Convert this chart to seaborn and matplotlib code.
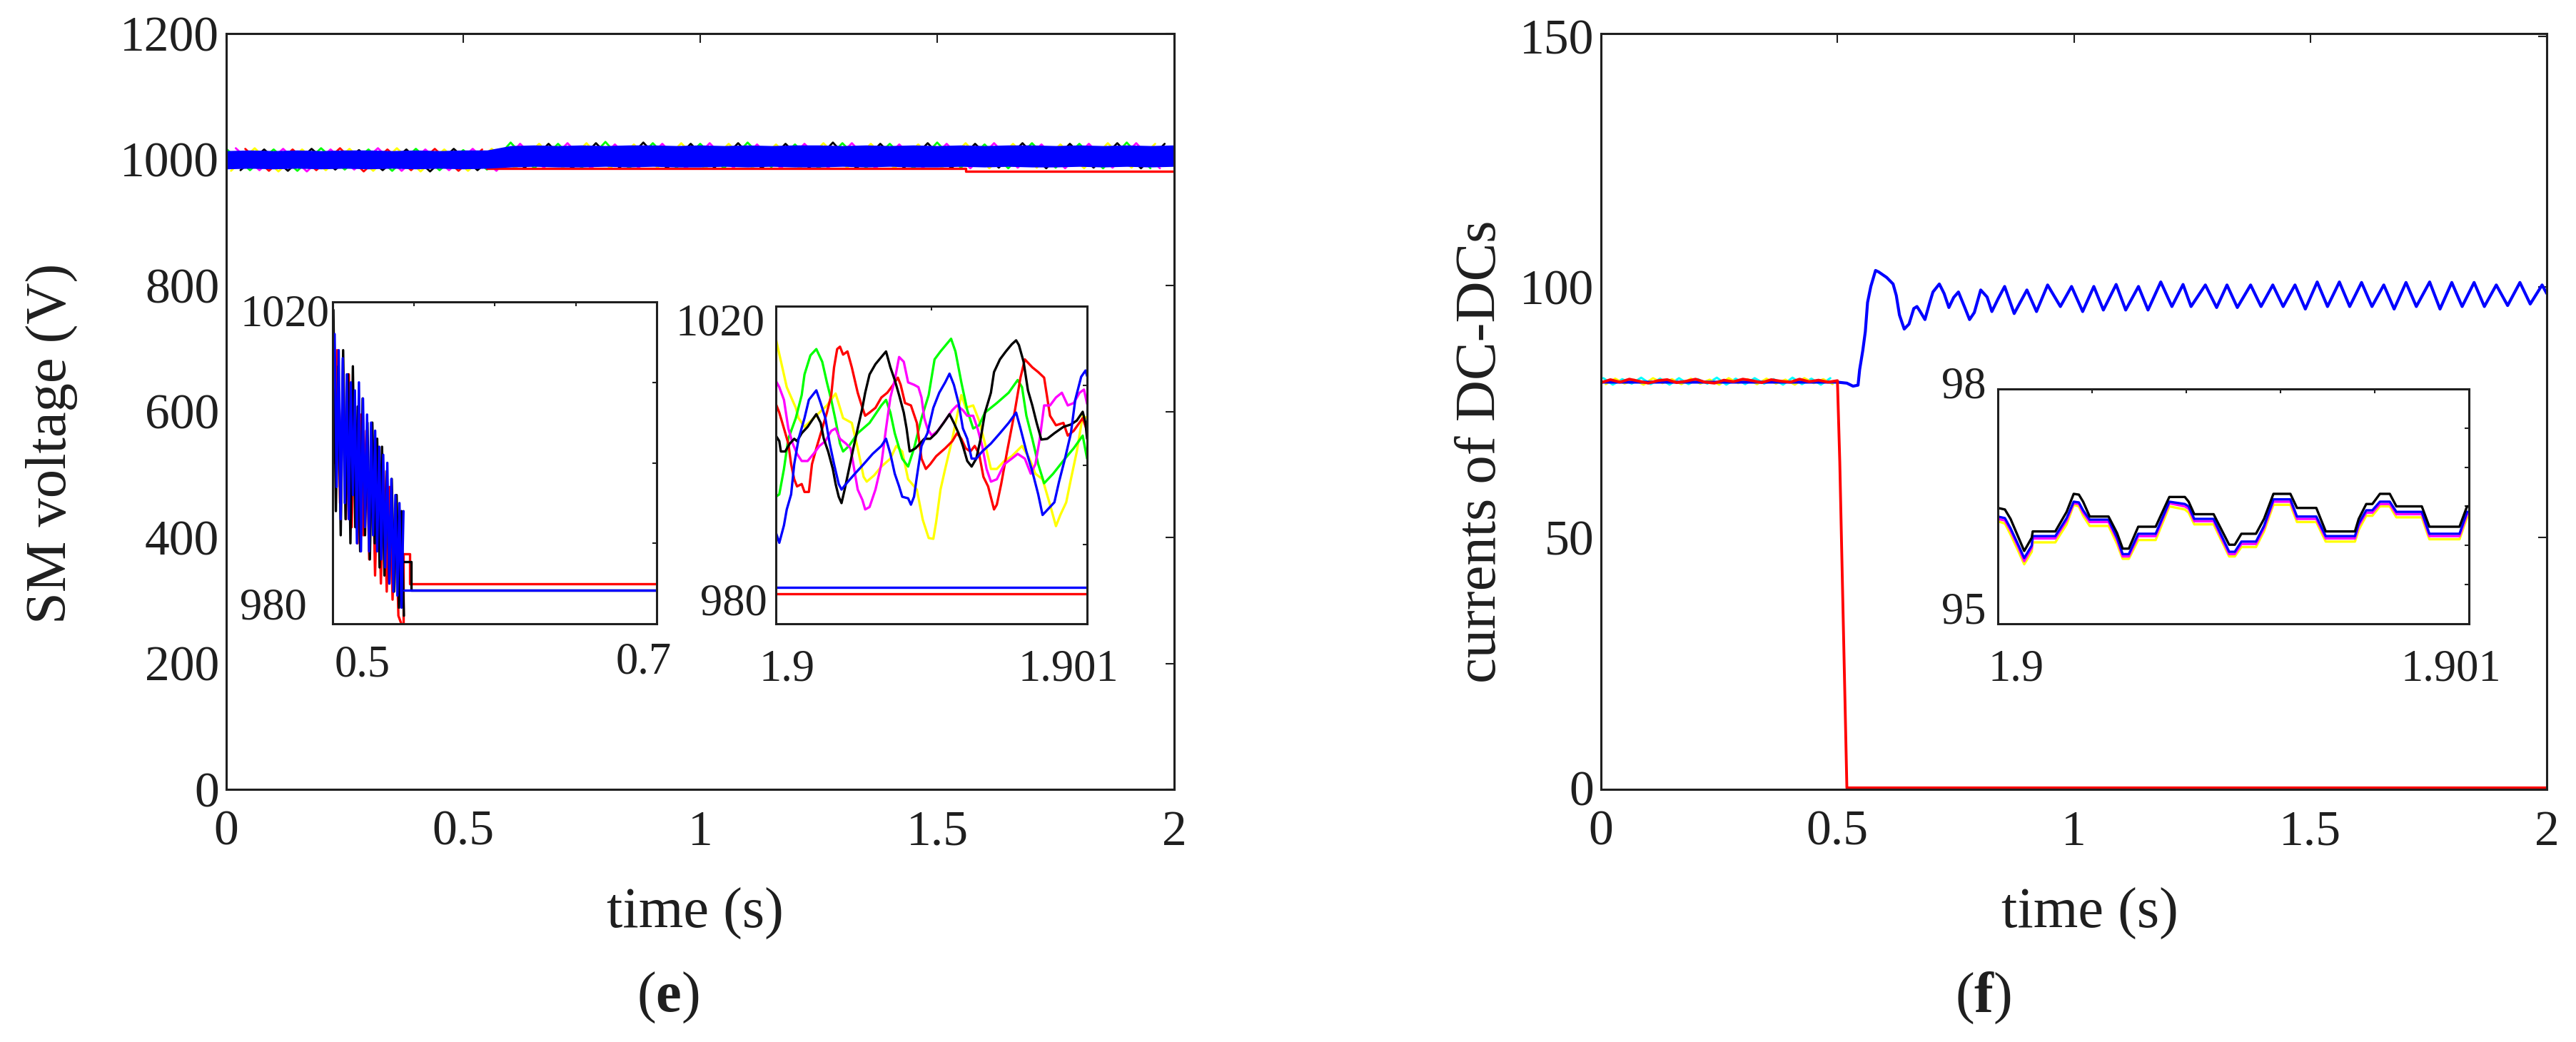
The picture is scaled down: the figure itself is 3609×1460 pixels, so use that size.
import numpy as np
import matplotlib
matplotlib.use("Agg")
import matplotlib.pyplot as plt
import seaborn as sns

W, H = 3609, 1460

# MATLAB style line colours
RED = "#ff0000"
GREEN = "#00ff00"
BLUE = "#0000ff"
BLACK = "#000000"
MAGENTA = "#ff00ff"
YELLOW = "#ffff00"
CYAN = "#00ffff"
INK = "#1f1f1f"

# ---------------- (e) SM voltage, main plot ----------------
ZIG_STEP = 0.05
green_main = [1017, 983, 1016, 982, 1018, 984, 1016, 982, 1017, 983, 1015, 984,
              1027, 986, 1025, 987, 1028, 986, 1026, 987, 1025, 986, 1027, 988, 1024, 986,
              1026, 987, 1025, 986, 1027, 987, 1024, 986, 1026, 987, 1025, 986, 1027, 986]
yellow_main = [982, 1018, 981, 1016, 983, 1017, 982, 1018, 981, 1016, 982, 1017,
               986, 1025, 987, 1026, 986, 1024, 987, 1026, 985, 1025, 987, 1024, 986, 1026,
               987, 1025, 986, 1024, 987, 1026, 986, 1025, 987, 1024, 986, 1026, 987, 1025]
magenta_main = [1018, 983, 1017, 981, 1016, 984, 1018, 982, 1016, 983, 1017, 982,
                1025, 987, 1026, 986, 1024, 987, 1025, 986, 1026, 987, 1024, 986, 1025, 987,
                1026, 986, 1024, 987, 1025, 986, 1026, 987, 1024, 986, 1025, 987, 1026, 986]
black_main = [983, 1016, 982, 1017, 984, 1015, 983, 1016, 981, 1017, 983, 1015,
              987, 1025, 986, 1026, 987, 1027, 986, 1025, 987, 1026, 986, 1025, 987, 1027,
              986, 1025, 987, 1026, 986, 1025, 987, 1026, 986, 1025, 987, 1026, 986, 1025]
red_main_zig = [1017, 982, 1016, 983, 1018, 981, 1016, 983, 1017, 982, 1016]
red_main_flat_t = [0.55, 1.56, 1.56, 2.0]
red_main_flat_v = [985.5, 985.5, 981.5, 981.5]

band_hi = [1014, 1015, 1014, 1015, 1014, 1015, 1015, 1014, 1015, 1014, 1015, 1015,
           1022, 1023, 1022, 1023, 1022, 1023, 1023, 1022, 1023, 1022,
           1023, 1022, 1023, 1023, 1022, 1023, 1022, 1023, 1022, 1023,
           1022, 1023, 1023, 1022, 1023, 1022, 1023, 1022, 1023]
band_lo = [985, 986, 985, 986, 985, 986, 985, 986, 985, 986, 985, 986,
           988, 989, 988, 988, 989, 988, 989, 988, 988, 989,
           988, 989, 988, 988, 989, 988, 989, 988, 988, 989,
           988, 989, 988, 988, 989, 988, 989, 988, 989]

# ---------------- (e) inset 1: 0.5 .. 0.7 s ----------------
in1_blue = [1008, 1016, 997, 1014, 993, 1013, 995, 1011, 993, 1010, 996, 1009,
            990, 1010, 989, 1008, 992, 1006, 989, 1005, 991, 1004, 989, 1002,
            988, 1001, 987, 1000, 985, 998, 984, 996, 983.5, 995, 982, 994]
in1_blue_tail_t = [0.5440, 0.7]
in1_blue_tail_v = [984.2, 984.2]
in1_black = [1019, 994, 1012, 991, 1014, 993, 1011, 990, 1012, 992, 1007, 989, 1008, 991, 1005,
             988, 1005, 990, 1003, 987, 1002, 986, 999, 985, 998, 984, 996, 982, 994, 981]
in1_black_tail_t = [0.5440, 0.5483, 0.5483, 0.7]
in1_black_tail_v = [987.7, 987.7, 984.2, 984.2]
in1_red = [1000, 1014, 995, 1010, 993, 1011, 992, 1008, 990, 1006, 991, 1004,
           988, 1003, 986, 1001, 985, 999, 984, 997, 983, 995, 981, 980]
in1_red_tail_t = [0.5436, 0.5436, 0.5475, 0.5475, 0.7]
in1_red_tail_v = [980, 988.7, 988.7, 985.0, 985.0]

# ---------------- (e) inset 2: 1.9 .. 1.901 s (time in microseconds after 1.9 s) ----------------
in2_yellow_us = [0, 35, 64, 73, 92, 164, 192, 216, 244, 263, 282, 292, 316, 339, 368, 387, 406, 425,
                 453, 472, 491, 506, 515, 529, 544, 567, 596, 610, 634, 653, 672, 691, 710, 734,
                 758, 791, 815, 834, 857, 881, 900, 914, 933, 948, 967, 986, 1000]
in2_yellow = [1015.9, 1009.8, 1007.2, 1005.9, 1004.8, 1007.5, 1009.0, 1005.9, 1005.3, 1002.1,
              998.5, 997.9, 998.7, 999.8, 1000.8, 1002.4, 1001.7, 998.2, 996.9, 993.1, 990.8,
              990.7, 992.8, 996.9, 999.5, 1003.3, 1008.8, 1007.2, 1007.5, 1005.6, 1002.7, 999.5,
              999.5, 1000.5, 1001.1, 1002.4, 1000.8, 998.9, 998.2, 995.0, 992.3, 993.7, 995.3,
              998.2, 1001.7, 1006.2, 1005.9]
in2_green_us = [0, 11, 26, 40, 64, 83, 92, 111, 130, 149, 164, 178, 192, 206, 216, 235, 263, 301,
                339, 354, 368, 382, 406, 425, 444, 468, 491, 510, 529, 563, 577, 596, 615, 634,
                653, 672, 710, 748, 777, 791, 805, 824, 843, 862, 891, 929, 957, 986, 1000]
in2_green = [996.0, 996.3, 999.5, 1003.3, 1005.9, 1008.8, 1011.4, 1013.8, 1014.6, 1013.0, 1010.4,
             1008.2, 1005.6, 1002.7, 1001.7, 1002.4, 1004.0, 1005.3, 1007.5, 1008.2, 1006.6,
             1004.0, 1000.8, 999.8, 1002.1, 1005.9, 1008.8, 1013.3, 1014.3, 1015.9, 1014.3,
             1010.4, 1006.9, 1004.6, 1005.0, 1006.6, 1007.8, 1009.1, 1010.7, 1009.8, 1006.2,
             1003.3, 1000.1, 997.7, 998.9, 1000.8, 1002.1, 1003.7, 1000.8]
in2_red_us = [0, 11, 26, 40, 49, 59, 68, 83, 92, 106, 116, 130, 149, 164, 178, 187, 197, 206, 216,
              230, 244, 263, 278, 287, 301, 320, 339, 358, 377, 392, 401, 415, 434, 453, 468, 482,
              496, 515, 544, 567, 582, 596, 610, 625, 639, 653, 667, 682, 701, 710, 724, 743, 767,
              786, 800, 824, 843, 862, 881, 900, 924, 938, 957, 986, 1000]
in2_red = [1007.7, 1006.6, 1004.6, 1002.7, 1000.1, 998.2, 997.3, 997.6, 996.6, 996.6,
           1000.1, 1002.1, 1004.6, 1006.6, 1008.8, 1012.3, 1014.6, 1014.9, 1013.9, 1014.3,
           1012.3, 1009.1, 1007.2, 1006.2, 1006.6, 1007.2, 1008.5, 1009.1, 1010.1, 1011.0,
           1010.1, 1007.8, 1007.5, 1005.3, 1000.8, 999.5, 1000.1, 1001.1, 1002.1, 1003.0,
           1004.0, 1003.3, 1002.1, 1001.7, 1002.4, 1001.4, 998.5, 997.3, 994.4, 995.0,
           997.6, 1001.7, 1006.6, 1011.0, 1013.3, 1012.3, 1011.7, 1011.0, 1006.2, 1005.0,
           1005.3, 1003.7, 1004.3, 1005.9, 1004.3]
in2_black_us = [0, 11, 16, 30, 45, 59, 68, 83, 102, 121, 130, 144, 154, 168, 183, 192, 202, 211,
                221, 235, 249, 263, 278, 287, 301, 320, 339, 354, 368, 382, 396, 411, 420, 430,
                449, 463, 477, 496, 515, 539, 558, 572, 587, 601, 615, 629, 644, 658, 672, 691,
                701, 720, 739, 758, 772, 781, 796, 810, 824, 838, 853, 872, 895, 924, 948, 967,
                986, 995, 1000]
in2_black = [1003.7, 1003.0, 1001.7, 1001.7, 1002.7, 1003.3, 1003.0, 1004.0, 1004.8, 1005.9,
             1006.4, 1005.3, 1003.3, 1001.7, 999.5, 997.6, 996.0, 995.2, 996.9, 999.5,
             1002.1, 1004.6, 1007.2, 1009.1, 1011.4, 1012.7, 1013.6, 1014.3, 1012.3, 1010.7,
             1008.8, 1006.6, 1004.6, 1001.7, 1002.1, 1002.7, 1003.3, 1003.3, 1004.0, 1005.3,
             1006.4, 1005.3, 1004.0, 1002.4, 1000.5, 999.8, 1000.8, 1003.3, 1006.6, 1009.1,
             1011.7, 1013.3, 1014.3, 1015.2, 1015.7, 1015.1, 1013.0, 1009.4, 1007.5, 1005.3,
             1003.2, 1003.3, 1004.0, 1004.8, 1005.1, 1005.6, 1006.7, 1005.3, 1003.3]
in2_magenta_us = [0, 11, 26, 40, 54, 68, 83, 102, 121, 140, 159, 178, 192, 206, 225, 240, 249,
                  263, 278, 287, 301, 320, 339, 354, 368, 382, 396, 411, 425, 444, 458, 468, 477,
                  487, 501, 520, 544, 567, 582, 601, 615, 634, 648, 663, 677, 691, 710, 734, 758,
                  777, 800, 819, 834, 848, 862, 881, 900, 919, 938, 957, 976, 990, 1000]
in2_magenta = [1010.6, 1009.8, 1008.2, 1004.6, 1002.7, 1001.4, 1000.5, 1000.5, 1001.4, 1002.4,
               1003.0, 1004.3, 1004.6, 1003.3, 1002.7, 1002.1, 1000.1, 996.9, 995.6, 994.4,
               994.7, 996.9, 1000.1, 1004.6, 1008.5, 1010.7, 1013.6, 1013.0, 1010.4, 1010.1,
               1009.8, 1008.5, 1005.9, 1004.6, 1003.7, 1004.3, 1005.6, 1006.9, 1007.5, 1006.9,
               1006.2, 1006.2, 1004.6, 1002.4, 999.5, 997.9, 998.2, 1000.1, 1000.8, 1001.4,
               1000.8, 998.9, 1000.1, 1003.3, 1007.5, 1007.5, 1008.5, 1009.1, 1007.5, 1007.8,
               1009.1, 1009.5, 1007.7]
in2_blue_us = [0, 11, 26, 35, 49, 59, 73, 92, 106, 130, 144, 159, 173, 187, 202, 211, 225, 254,
               282, 311, 339, 354, 368, 382, 396, 406, 425, 434, 444, 453, 468, 487, 506, 525,
               544, 558, 572, 587, 601, 615, 629, 644, 663, 691, 720, 748, 772, 786, 805, 824,
               843, 857, 876, 895, 910, 929, 948, 962, 981, 995, 1000]
in2_blue = [991.5, 990.2, 992.4, 994.4, 996.3, 1000.1, 1003.3, 1005.9, 1008.2, 1009.4,
            1007.8, 1005.9, 1002.7, 1000.1, 997.6, 996.9, 997.6, 998.9, 1000.1, 1001.4,
            1002.4, 1003.3, 1001.4, 998.9, 997.3, 996.0, 995.8, 995.0, 996.0, 998.5,
            1002.4, 1004.0, 1007.2, 1009.1, 1010.4, 1011.5, 1010.1, 1007.8, 1004.6, 1003.3,
            1000.8, 1000.8, 1001.7, 1002.7, 1004.0, 1005.3, 1006.6, 1004.6, 1001.7, 999.2,
            996.3, 993.7, 994.5, 995.3, 997.9, 1000.8, 1004.0, 1008.2, 1011.1, 1011.9, 1011.2]
in2_blue_flat = 984.6
in2_red_flat = 983.8

# ---------------- (f) currents of DC-DCs ----------------
f_pre_step = 0.02
red_f_pre = [80.9, 81.5, 81.0, 81.6, 81.2, 80.8, 81.3, 81.5, 80.9, 81.2, 81.6, 81.0, 80.8,
             81.4, 81.1, 81.6, 81.3, 80.9, 81.5, 81.2, 81.0, 81.6, 81.1, 81.4, 81.0, 81.3]
red_f_drop_t = [0.505, 0.52, 2.0]
red_f_drop_v = [65.0, 0.0, 0.0]
yellow_f_pre = [80.6, 81.7, 80.7, 81.5, 80.5, 81.8, 80.8, 81.6, 80.6, 81.7, 80.7, 81.5, 80.5,
                81.8, 80.8, 81.6, 80.6, 81.7, 80.7, 81.5, 80.5, 81.8, 80.8, 81.6, 80.6]
cyan_f_pre = [81.8, 80.5, 81.6, 80.7, 81.9, 80.6, 81.7, 80.5, 81.8, 80.6, 81.6, 80.7, 81.9,
              80.5, 81.7, 80.6, 81.8, 80.7, 81.6, 80.5, 81.9, 80.6, 81.7, 80.5, 81.8]
blue_f_t = [0.0, 0.25, 0.5, 0.52, 0.533, 0.5436, 0.547, 0.5536, 0.559, 0.5637,
            0.5706, 0.5806, 0.5873, 0.6042, 0.6177, 0.6245, 0.6312, 0.6413, 0.6514, 0.6615,
            0.6682, 0.6750, 0.6851, 0.6952, 0.7020, 0.7155, 0.7256, 0.7357, 0.7458, 0.7559,
            0.7693, 0.7794, 0.7895, 0.8030, 0.8165, 0.8266, 0.8401, 0.8536, 0.8738, 0.9007,
            0.9210, 0.9445, 0.9715, 0.9951, 1.0186, 1.0422, 1.0624, 1.0894, 1.1096, 1.1366,
            1.1568, 1.1838, 1.2073, 1.2309, 1.2478, 1.2781, 1.3019, 1.3238, 1.3457, 1.3738,
            1.3958, 1.4207, 1.4426, 1.4676, 1.4895, 1.5146, 1.5364, 1.5615, 1.5833, 1.6084,
            1.6304, 1.6554, 1.6773, 1.7024, 1.7242, 1.7524, 1.7743, 1.7992, 1.8211, 1.8464,
            1.8681, 1.8933, 1.9173, 1.9433, 1.9651, 1.9902, 2.0]
blue_f = [81.0, 81.0, 81.0, 80.8, 80.2, 80.4, 83.5, 87.3, 91.1, 96.9,
          100.1, 103.3, 103.0, 101.9, 100.6, 98.3, 94.4, 91.6, 92.6, 95.7,
          96.1, 95.1, 93.5, 96.9, 99.0, 100.6, 98.7, 95.9, 97.9, 99.0,
          95.9, 93.5, 94.9, 99.4, 98.0, 95.1, 97.7, 100.1, 94.7, 99.4,
          95.1, 100.4, 96.1, 100.1, 95.1, 100.1, 95.4, 100.5, 95.4, 100.1,
          95.4, 101.0, 96.1, 100.5, 96.1, 100.4, 95.9, 100.4, 95.9, 100.4,
          96.1, 100.4, 96.1, 100.4, 95.6, 101.0, 96.1, 101.0, 96.1, 100.9,
          96.1, 100.4, 95.6, 100.9, 96.1, 101.0, 95.6, 100.9, 96.1, 100.9,
          96.1, 100.4, 96.3, 100.9, 96.6, 100.4, 98.7]

# (f) inset: 1.9 .. 1.901 s (microseconds after 1.9 s)
inf_us = [0, 15, 27, 44, 56, 72, 74, 122, 146, 161, 172, 181, 195, 235, 253, 265, 278, 298, 335,
          364, 397, 405, 417, 458, 491, 503, 517, 548, 565, 585, 621, 635, 676, 696, 758, 766,
          782, 795, 811, 832, 846, 900, 916, 980, 996, 1000]
inf_black = [96.48, 96.46, 96.34, 96.10, 95.93, 96.10, 96.18, 96.18, 96.43, 96.66,
             96.65, 96.56, 96.37, 96.37, 96.16, 95.96, 95.96, 96.24, 96.24, 96.62,
             96.62, 96.56, 96.40, 96.40, 96.01, 96.01, 96.15, 96.15, 96.34, 96.66,
             96.66, 96.48, 96.48, 96.18, 96.18, 96.34, 96.53, 96.53, 96.66, 96.66,
             96.50, 96.50, 96.24, 96.24, 96.50, 96.50]
inf_blue = [96.37, 96.35, 96.22, 96.00, 95.84, 96.00, 96.12, 96.12, 96.35, 96.56,
            96.55, 96.45, 96.33, 96.33, 96.10, 95.89, 95.89, 96.15, 96.15, 96.56,
            96.53, 96.50, 96.34, 96.34, 95.92, 95.92, 96.05, 96.05, 96.25, 96.59,
            96.59, 96.37, 96.37, 96.12, 96.12, 96.28, 96.45, 96.45, 96.56, 96.56,
            96.43, 96.43, 96.15, 96.15, 96.43, 96.43]
inf_magenta = [96.34, 96.32, 96.19, 95.97, 95.80, 95.97, 96.09, 96.09, 96.32, 96.54,
               96.53, 96.42, 96.30, 96.30, 96.07, 95.86, 95.86, 96.12, 96.12, 96.54,
               96.50, 96.47, 96.31, 96.31, 95.89, 95.89, 96.02, 96.02, 96.22, 96.56,
               96.56, 96.34, 96.34, 96.09, 96.09, 96.25, 96.42, 96.42, 96.53, 96.53,
               96.40, 96.40, 96.12, 96.12, 96.40, 96.40]
inf_yellow = [96.31, 96.28, 96.14, 95.92, 95.76, 95.92, 96.04, 96.04, 96.27, 96.52,
              96.50, 96.38, 96.25, 96.25, 96.02, 95.83, 95.83, 96.07, 96.07, 96.50,
              96.46, 96.42, 96.27, 96.27, 95.86, 95.86, 95.98, 95.98, 96.18, 96.52,
              96.52, 96.30, 96.30, 96.05, 96.05, 96.20, 96.38, 96.38, 96.50, 96.50,
              96.36, 96.36, 96.08, 96.08, 96.36, 96.36]

main_ticks = [0, 0.5, 1, 1.5, 2]
main_ticklabels = ["0", "0.5", "1", "1.5", "2"]

# ---------------- style ----------------
sns.set_theme(style="white")
plt.rcParams["font.family"] = ["Liberation Serif", "DejaVu Serif"]
plt.rcParams["mathtext.fontset"] = "custom"
plt.rcParams["mathtext.rm"] = "Liberation Serif"
plt.rcParams["mathtext.bf"] = "Liberation Serif:bold"
plt.rcParams["text.color"] = INK


def px_rect(x0, y0, x1, y1):
    return [x0 / W, 1 - y1 / H, (x1 - x0) / W, (y1 - y0) / H]


def draw(ax, t, v, color, lw=2.4):
    sns.lineplot(x=np.asarray(t, float), y=np.asarray(v, float), ax=ax, color=color,
                 linewidth=lw, estimator=None, sort=False, legend=False)


def frame(ax, spine_lw=2.2, tick_len=9.0, labelsize=50, pad=7):
    for s in ax.spines.values():
        s.set_visible(True)
        s.set_linewidth(spine_lw)
        s.set_color(INK)
        s.set_zorder(5)
    ax.tick_params(direction="in", length=tick_len, width=1.5, colors=INK,
                   labelsize=labelsize, top=True, right=True, pad=pad)
    ax.set_xlabel("")
    ax.set_ylabel("")
    ax.set_facecolor("white")


def ftext(x, y, s, size, **kw):
    fig.text(x / W, 1 - y / H, s, fontsize=size, color=INK, **kw)


fig = plt.figure(figsize=(W / 100, H / 100), dpi=100)

# ======== (e) ========
ax_e = fig.add_axes(px_rect(317, 47, 1645, 1106))
for vals, col, off in [(green_main, GREEN, 0.00), (yellow_main, YELLOW, 0.01),
                       (magenta_main, MAGENTA, 0.02), (black_main, BLACK, 0.03)]:
    draw(ax_e, off + ZIG_STEP * np.arange(len(vals)), vals, col, lw=2.0)
draw(ax_e, 0.04 + ZIG_STEP * np.arange(len(red_main_zig)), red_main_zig, RED, lw=2.0)
draw(ax_e, red_main_flat_t, red_main_flat_v, RED, lw=2.4)
band_t = ZIG_STEP * np.arange(len(band_hi))
ax_e.fill_between(band_t, band_lo, band_hi, color=BLUE, lw=0, zorder=3)
ax_e.set_xlim(0, 2)
ax_e.set_ylim(0, 1200)
ax_e.set_xticks(main_ticks)
ax_e.set_xticklabels(main_ticklabels)
ax_e.set_yticks(range(0, 1201, 200))
frame(ax_e)
ax_e.tick_params(axis="x", pad=21)

# inset 1
ax_i1 = fig.add_axes(px_rect(466, 423, 920, 874))
draw(ax_i1, 0.501 + 0.0018 * np.arange(len(in1_red)), in1_red, RED)
draw(ax_i1, in1_red_tail_t, in1_red_tail_v, RED)
draw(ax_i1, 0.5005 + 0.0015 * np.arange(len(in1_black)), in1_black, BLACK)
draw(ax_i1, in1_black_tail_t, in1_black_tail_v, BLACK)
draw(ax_i1, 0.5 + 0.00125 * np.arange(len(in1_blue)), in1_blue, BLUE)
draw(ax_i1, in1_blue_tail_t, in1_blue_tail_v, BLUE)
ax_i1.set_xlim(0.5, 0.7)
ax_i1.set_ylim(980, 1020)
ax_i1.set_xticks([0.55, 0.6, 0.65])
ax_i1.set_yticks([990, 1000, 1010])
frame(ax_i1, tick_len=4, labelsize=1)
ax_i1.tick_params(labelbottom=False, labelleft=False)
ftext(336, 442, "1020", 45, ha="left", va="center")
ftext(336, 852, "980", 45, ha="left", va="center")
ftext(508, 932, "0.5", 45, ha="center", va="center")
ftext(902, 929, "0.7", 45, ha="center", va="center")

# inset 2
ax_i2 = fig.add_axes(px_rect(1087, 429, 1523, 874))
draw(ax_i2, [1.9, 1.901], [in2_red_flat, in2_red_flat], RED)
draw(ax_i2, [1.9, 1.901], [in2_blue_flat, in2_blue_flat], BLUE)
for us, vals, col in [(in2_yellow_us, in2_yellow, YELLOW), (in2_green_us, in2_green, GREEN),
                      (in2_red_us, in2_red, RED), (in2_magenta_us, in2_magenta, MAGENTA),
                      (in2_black_us, in2_black, BLACK), (in2_blue_us, in2_blue, BLUE)]:
    draw(ax_i2, 1.9 + np.asarray(us) * 1e-6, vals, col)
ax_i2.set_xlim(1.9, 1.901)
ax_i2.set_ylim(980, 1020)
ax_i2.set_xticks([1.9005])
ax_i2.set_yticks([990, 1000, 1010])
frame(ax_i2, tick_len=4, labelsize=1)
ax_i2.tick_params(labelbottom=False, labelleft=False)
ftext(1071, 455, "1020", 45, ha="right", va="center")
ftext(1075, 846, "980", 45, ha="right", va="center")
ftext(1103, 939, "1.9", 45, ha="center", va="center")
ftext(1497, 938, "1.901", 45, ha="center", va="center")

ftext(974, 1280, "time (s)", 58, ha="center", va="center")
ftext(72, 621, "SM voltage (V)", 58, ha="center", va="center", rotation=90)
ftext(936, 1398, r"($\mathbf{e}$)", 58, ha="center", va="center")

# ======== (f) ========
ax_f = fig.add_axes(px_rect(2243, 47, 3568, 1106))
draw(ax_f, 0.005 + f_pre_step * np.arange(len(cyan_f_pre)), cyan_f_pre, CYAN, lw=2.2)
draw(ax_f, 0.01 + f_pre_step * np.arange(len(yellow_f_pre)), yellow_f_pre, YELLOW, lw=2.2)
draw(ax_f, blue_f_t, blue_f, BLUE, lw=3.0)
red_t = np.concatenate([f_pre_step * np.arange(len(red_f_pre)), red_f_drop_t])
red_v = np.concatenate([red_f_pre, red_f_drop_v])
draw(ax_f, red_t, red_v, RED, lw=2.8)
ax_f.set_xlim(0, 2)
ax_f.set_ylim(-0.3, 150.6)
ax_f.set_xticks(main_ticks)
ax_f.set_xticklabels(main_ticklabels)
ax_f.set_yticks([0, 50, 100, 150])
frame(ax_f)
ax_f.tick_params(axis="x", pad=21)

ax_if = fig.add_axes(px_rect(2799, 545, 3459, 874))
for vals, col in [(inf_yellow, YELLOW), (inf_magenta, MAGENTA), (inf_blue, BLUE), (inf_black, BLACK)]:
    draw(ax_if, 1.9 + np.asarray(inf_us) * 1e-6, vals, col)
ax_if.set_xlim(1.9, 1.901)
ax_if.set_ylim(95, 98)
ax_if.set_xticks([1.9002, 1.9004, 1.9006, 1.9008])
ax_if.set_yticks([95.5, 96, 96.5, 97, 97.5])
frame(ax_if, tick_len=4, labelsize=1)
ax_if.tick_params(labelbottom=False, labelleft=False)
ftext(2751, 543, "98", 45, ha="center", va="center")
ftext(2751, 858, "95", 45, ha="center", va="center")
ftext(2825, 938, "1.9", 45, ha="center", va="center")
ftext(3434, 938, "1.901", 45, ha="center", va="center")

ftext(2928, 1280, "time (s)", 58, ha="center", va="center")
ftext(2075, 633, "currents of DC-DCs", 58, ha="center", va="center", rotation=90)
ftext(2778, 1398, r"($\mathbf{f}$)", 58, ha="center", va="center")

fig.savefig("out.png", dpi=100, facecolor="white")
